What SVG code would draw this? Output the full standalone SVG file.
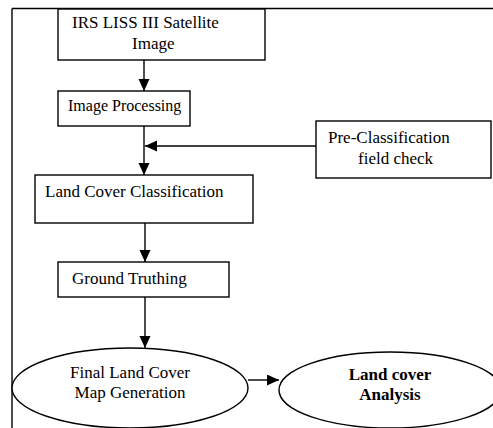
<svg xmlns="http://www.w3.org/2000/svg" width="493" height="428" viewBox="0 0 493 428">
<style>
.box{fill:#fff;stroke:#000;stroke-width:1.4}
.t{font-family:"Liberation Serif","Times New Roman",serif;font-size:17px;fill:#000}
.b{font-weight:bold}
.c{stroke:#000;stroke-width:1.4;fill:none}
</style>
<defs>
<marker id="ah" markerUnits="userSpaceOnUse" markerWidth="14" markerHeight="12" refX="12" refY="5.5" orient="auto">
<path d="M0,0 L12,5.5 L0,11 Z" fill="#000"/>
</marker>
</defs>
<g id="frame">
<path d="M12,8.5 H493 M12,8.5 V428" class="c"/>
</g>
<g id="connectors">
<path class="c" d="M144,60 V91" marker-end="url(#ah)"/>
<path class="c" d="M144,126 V175" marker-end="url(#ah)"/>
<path class="c" d="M316,146 H145" marker-end="url(#ah)"/>
<path class="c" d="M145,223 V262" marker-end="url(#ah)"/>
<path class="c" d="M145,297 V348" marker-end="url(#ah)"/>
<path class="c" d="M248,380 H279" marker-end="url(#ah)"/>
</g>
<g id="satellite">
<rect class="box" x="58" y="9" width="207" height="51"/>
<text class="t" x="72" y="28">IRS LISS III Satellite</text>
<text class="t" x="132" y="49">Image</text>
</g>
<g id="processing">
<rect class="box" x="58" y="91" width="132" height="35"/>
<text class="t" x="68" y="111" style="font-size:16px">Image Processing</text>
</g>
<g id="preclass">
<rect class="box" x="316" y="121" width="175" height="57"/>
<text class="t" x="328" y="143">Pre-Classification</text>
<text class="t" x="358" y="164">field check</text>
</g>
<g id="classification">
<rect class="box" x="35" y="175" width="218" height="48"/>
<text class="t" x="45" y="197">Land Cover Classification</text>
</g>
<g id="ground">
<rect class="box" x="58" y="262" width="171" height="35"/>
<text class="t" x="72" y="284">Ground Truthing</text>
</g>
<g id="finalmap">
<ellipse class="box" cx="130" cy="388" rx="118" ry="40"/>
<text class="t" x="130" y="378" text-anchor="middle">Final Land Cover</text>
<text class="t" x="130" y="398" text-anchor="middle">Map Generation</text>
</g>
<g id="analysis">
<ellipse class="box" cx="390" cy="390" rx="111" ry="38"/>
<text class="t b" x="390" y="380" text-anchor="middle">Land cover</text>
<text class="t b" x="390" y="400" text-anchor="middle">Analysis</text>
</g>
</svg>
